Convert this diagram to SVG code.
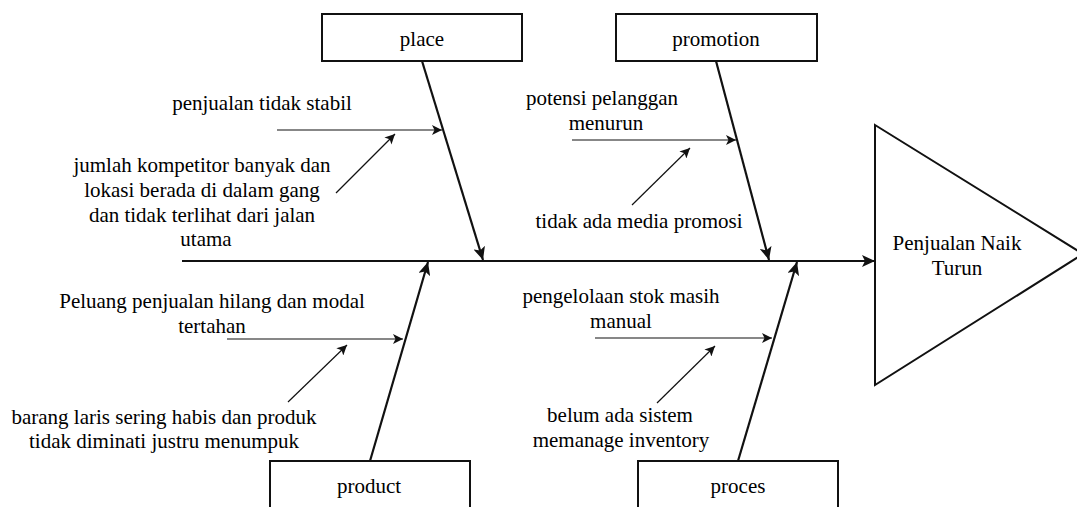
<svg xmlns="http://www.w3.org/2000/svg" width="1077" height="507" viewBox="0 0 1077 507">
<defs>
<marker id="ah" markerUnits="userSpaceOnUse" markerWidth="14" markerHeight="12" refX="13" refY="6" orient="auto"><path d="M0,0 L13,6 L0,12 L3,6 Z" fill="#111"/></marker>
<marker id="as" markerUnits="userSpaceOnUse" markerWidth="11" markerHeight="10" refX="10" refY="5" orient="auto"><path d="M0,0 L10,5 L0,10 L2.5,5 Z" fill="#111"/></marker>
</defs>
<g id="connectors" fill="none" stroke="#111">
<g stroke-width="2.2">
<line x1="182" y1="261" x2="875" y2="261" marker-end="url(#ah)"/>
<line x1="422" y1="61" x2="483" y2="260" marker-end="url(#ah)"/>
<line x1="716" y1="61" x2="769" y2="260" marker-end="url(#ah)"/>
<line x1="370" y1="461" x2="428" y2="262" marker-end="url(#ah)"/>
<line x1="738" y1="461" x2="797" y2="262" marker-end="url(#ah)"/>
</g>
<g stroke-width="1.2">
<line x1="277" y1="130" x2="442" y2="130" marker-end="url(#as)"/>
<line x1="336" y1="193" x2="395" y2="134" marker-end="url(#as)"/>
<line x1="572" y1="140" x2="736" y2="140" marker-end="url(#as)"/>
<line x1="632" y1="205" x2="690" y2="148" marker-end="url(#as)"/>
<line x1="227" y1="339" x2="403" y2="339" marker-end="url(#as)"/>
<line x1="288" y1="402" x2="347" y2="345" marker-end="url(#as)"/>
<line x1="595" y1="338" x2="772" y2="338" marker-end="url(#as)"/>
<line x1="657" y1="403" x2="715" y2="346" marker-end="url(#as)"/>
</g>
</g>
<g id="place"><rect x="322" y="14" width="200" height="47" fill="#fff" stroke="#111" stroke-width="2"/><text x="422" y="46" font-family="Liberation Serif" font-size="21" text-anchor="middle">place</text></g>
<g id="promotion"><rect x="616" y="14" width="201" height="47" fill="#fff" stroke="#111" stroke-width="2"/><text x="716" y="46" font-family="Liberation Serif" font-size="21" text-anchor="middle">promotion</text></g>
<g id="product"><rect x="270" y="461" width="200" height="60" fill="#fff" stroke="#111" stroke-width="2"/><text x="369" y="493" font-family="Liberation Serif" font-size="21" text-anchor="middle">product</text></g>
<g id="proces"><rect x="638" y="461" width="200" height="60" fill="#fff" stroke="#111" stroke-width="2"/><text x="738" y="493" font-family="Liberation Serif" font-size="21" text-anchor="middle">proces</text></g>
<g id="effect"><path d="M875,125 L1083,254 L875,385 Z" fill="none" stroke="#111" stroke-width="2"/><text x="957" y="250" font-family="Liberation Serif" font-size="21" text-anchor="middle">Penjualan Naik</text><text x="957" y="275" font-family="Liberation Serif" font-size="21" text-anchor="middle">Turun</text></g>
<g id="place-causes">
<text x="262" y="110" font-family="Liberation Serif" font-size="21" text-anchor="middle">penjualan tidak stabil</text>
<text x="202" y="172" font-family="Liberation Serif" font-size="21" text-anchor="middle">jumlah kompetitor banyak dan</text>
<text x="202" y="197" font-family="Liberation Serif" font-size="21" text-anchor="middle">lokasi berada di dalam gang</text>
<text x="202" y="222" font-family="Liberation Serif" font-size="21" text-anchor="middle">dan tidak terlihat dari jalan</text>
<text x="206" y="246" font-family="Liberation Serif" font-size="21" text-anchor="middle">utama</text>
</g>
<g id="promotion-causes">
<text x="602" y="105" font-family="Liberation Serif" font-size="21" text-anchor="middle">potensi pelanggan</text>
<text x="606" y="130" font-family="Liberation Serif" font-size="21" text-anchor="middle">menurun</text>
<text x="639" y="228" font-family="Liberation Serif" font-size="21" text-anchor="middle">tidak ada media promosi</text>
</g>
<g id="product-causes">
<text x="212" y="308" font-family="Liberation Serif" font-size="21" text-anchor="middle">Peluang penjualan hilang dan modal</text>
<text x="212" y="333" font-family="Liberation Serif" font-size="21" text-anchor="middle">tertahan</text>
<text x="164" y="424" font-family="Liberation Serif" font-size="21" text-anchor="middle">barang laris sering habis dan produk</text>
<text x="164" y="448" font-family="Liberation Serif" font-size="21" text-anchor="middle">tidak diminati justru menumpuk</text>
</g>
<g id="proces-causes">
<text x="621" y="303" font-family="Liberation Serif" font-size="21" text-anchor="middle">pengelolaan stok masih</text>
<text x="621" y="328" font-family="Liberation Serif" font-size="21" text-anchor="middle">manual</text>
<text x="620" y="422" font-family="Liberation Serif" font-size="21" text-anchor="middle">belum ada sistem</text>
<text x="621" y="447" font-family="Liberation Serif" font-size="21" text-anchor="middle">memanage inventory</text>
</g>
</svg>
